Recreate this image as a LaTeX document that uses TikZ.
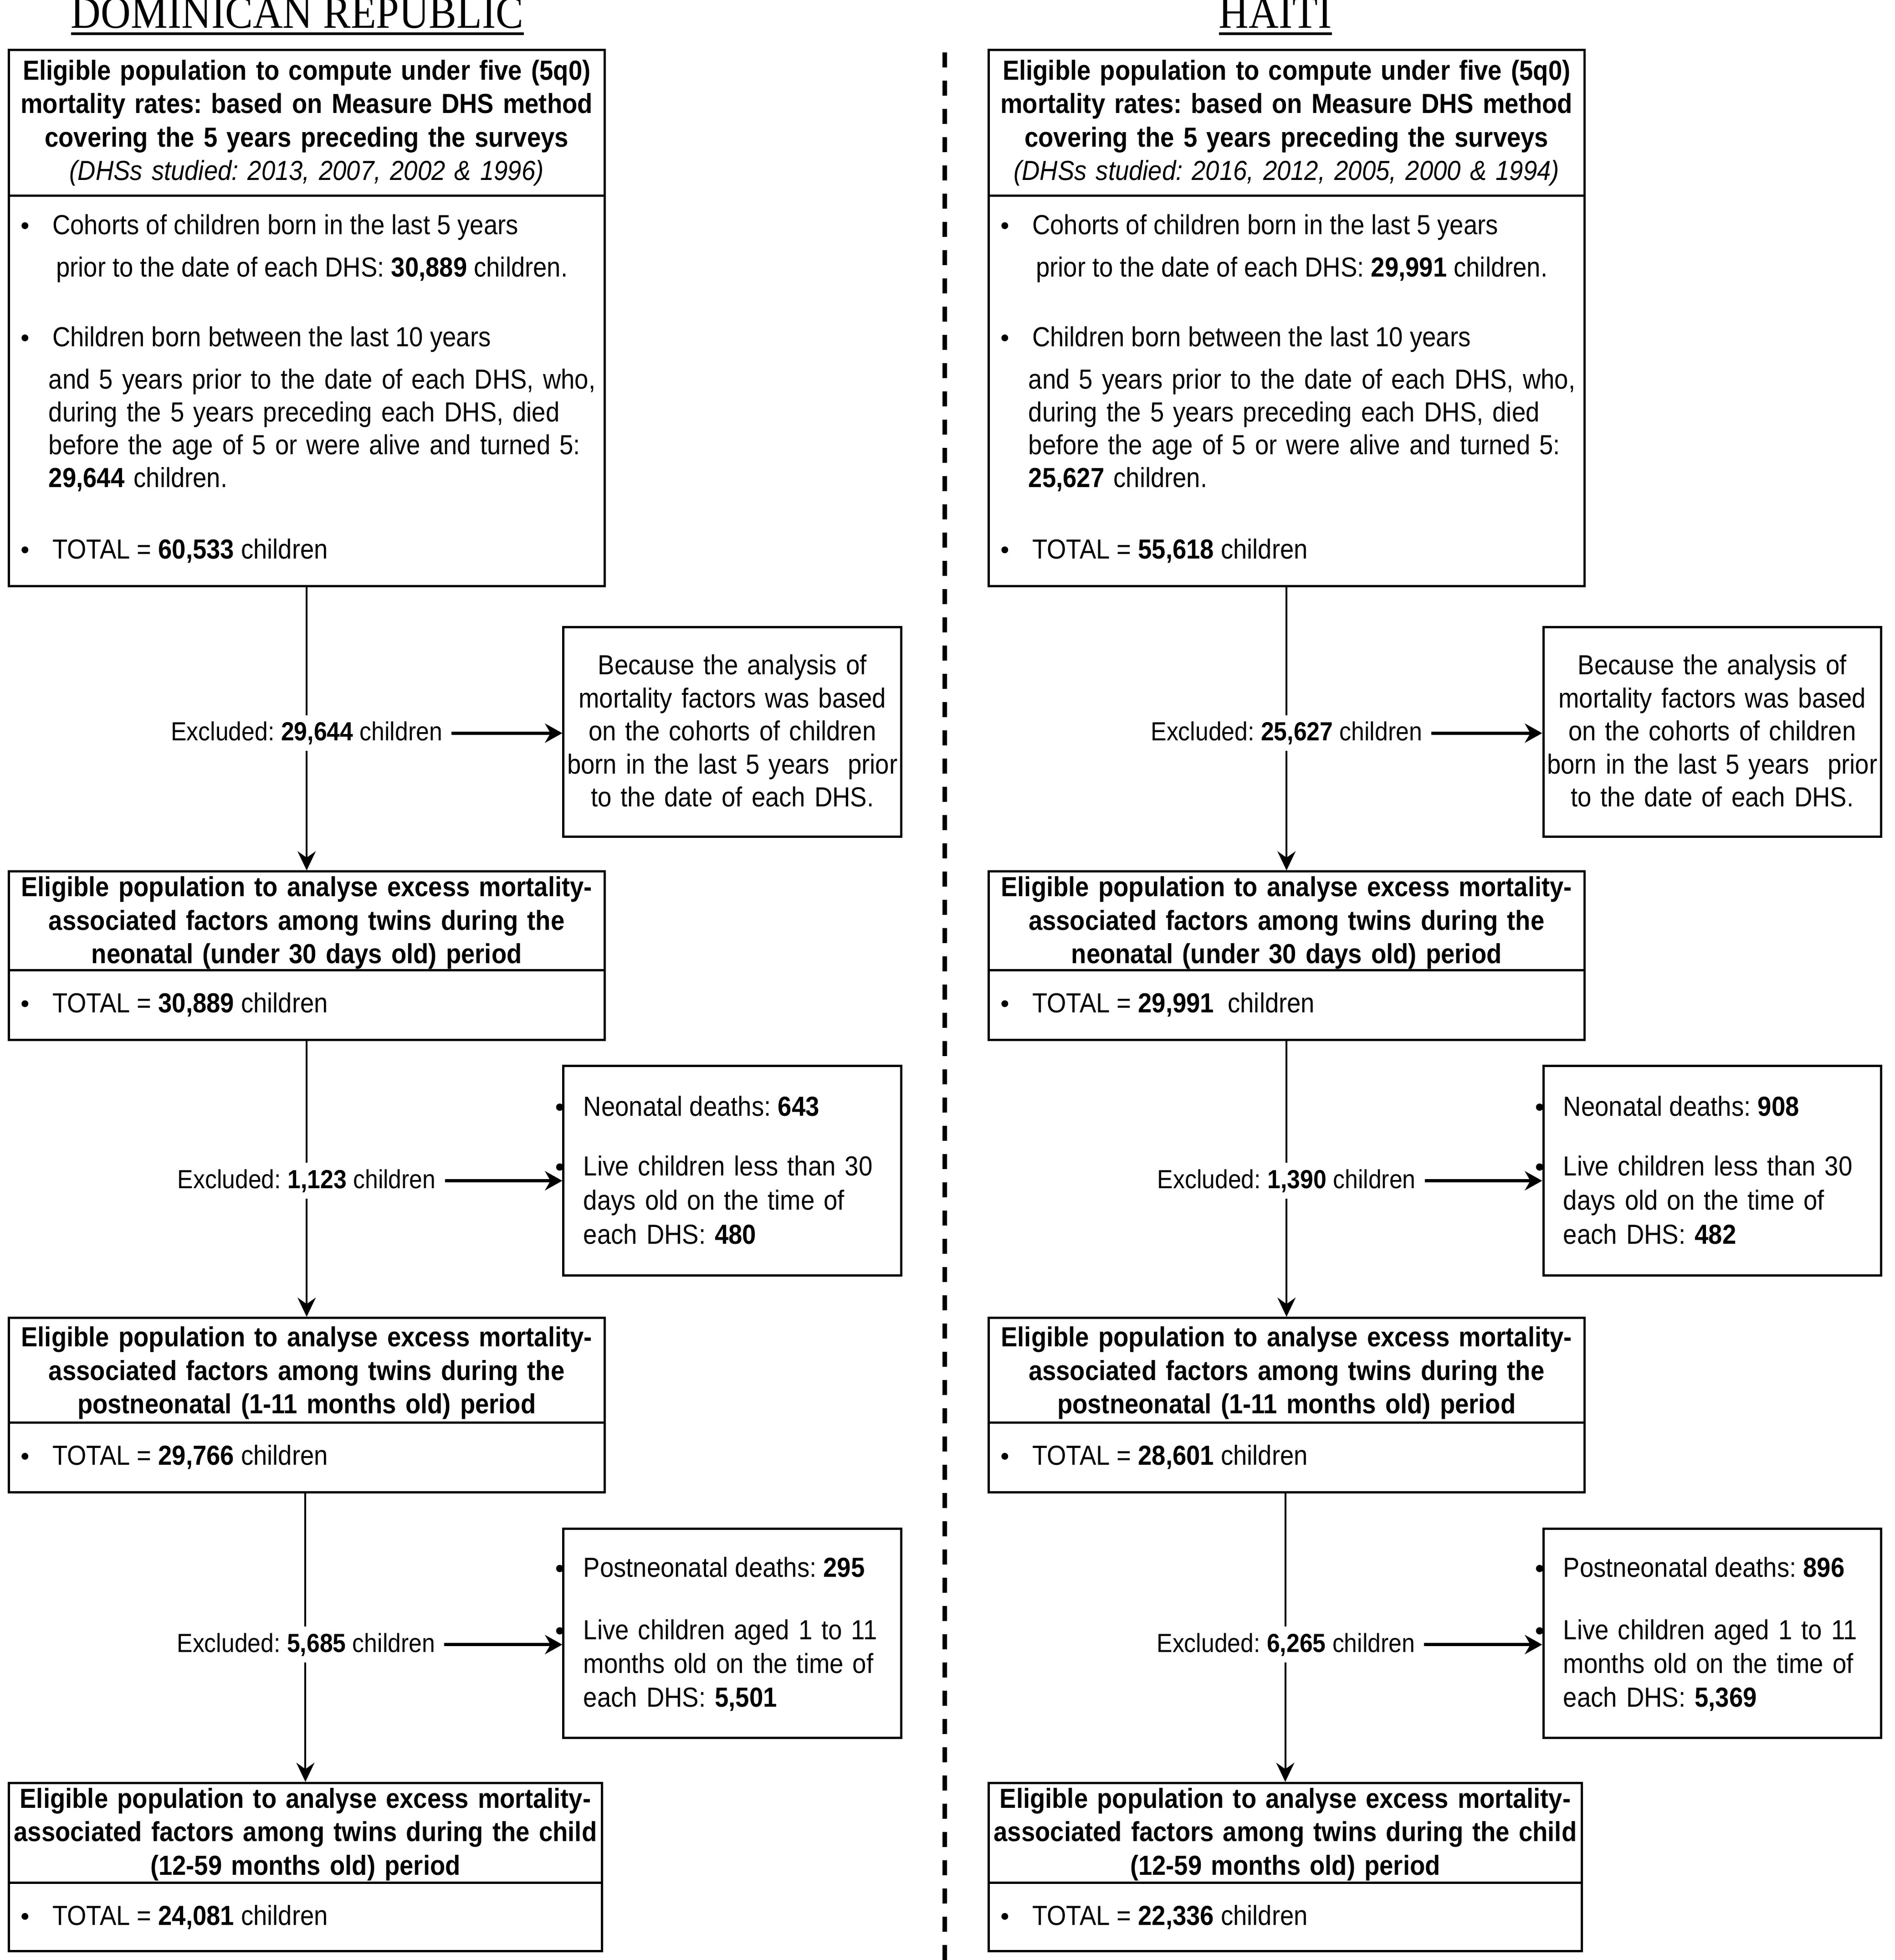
\documentclass[tikz,border=0pt]{standalone}
\usepackage{fontspec}
\setmainfont[FakeStretch=0.9]{Liberation Sans}
\newfontfamily\titlefont[FakeStretch=0.91]{Liberation Serif}
\usetikzlibrary{arrows.meta,fit}
\newcommand{\fsz}[1]{\fontsize{60.5}{#1}\selectfont}
\frenchspacing
\begin{document}
\begin{tikzpicture}[x=2.7368pt,y=-2.7368pt,
  frame/.style={draw=black, line width=5pt, inner sep=0pt},
  hdr/.style={anchor=base, inner sep=0pt, text width=1500pt, align=center, font=\fsz{73.5}\bfseries},
  txt/.style={anchor=base west, inner sep=0pt, font=\fsz{72.5}},
  txtm/.style={anchor=base west, inner sep=0pt, text width=1250pt, align=left, font=\fsz{#1}},
  stxt/.style={anchor=base, inner sep=0pt, text width=800pt, align=center, font=\fsz{72.5}},
  exlab/.style={anchor=base, fill=white, inner xsep=20pt, inner ysep=14pt, font=\fontsize{57.5}{66}\selectfont},
  dot/.style={circle, fill=black, inner sep=0pt, minimum size=15pt},
  sdot/.style={circle, fill=black, inner sep=0pt, minimum size=16pt},
  varrow/.style={line width=4pt, -{Stealth[length=42pt,width=40pt,inset=14pt]}},
  harrow/.style={line width=7pt, -{Stealth[length=38pt,width=42pt,inset=12pt]}},
  ttl/.style={anchor=base, inner sep=0pt, font=\titlefont\fontsize{100}{100}\selectfont},
  uline/.style={line width=6pt},
  divider/.style={line width=10pt, dash pattern=on 33pt off 29pt}]
\useasboundingbox (0,0) rectangle (1520,1572);
\fill[white] (0,0) rectangle (1520,1572);

% ---------- titles ----------
\node[ttl] (tDR) at (238.5,22.5) {DOMINICAN REPUBLIC};
\draw[uline] ([yshift=-12pt]tDR.base west) -- ([yshift=-12pt]tDR.base east);
\node[ttl] (tHA) at (1023,22.5) {HAITI};
\draw[uline] ([yshift=-12pt]tHA.base west) -- ([yshift=-12pt]tHA.base east);

% ---------- divider ----------
\coordinate (dv1) at (758,42);
\coordinate (dv2) at (758,1572);
\draw[divider] (dv1) -- (dv2);

% ================= DOMINICAN REPUBLIC =================
\node[frame, fit={(7,40)(485,157)}] (dAh) {};
\node[frame, fit={(7,157)(485,470)}] (dAb) {};
\node[frame, fit={(452,503)(723,671)}] (dS1) {};
\node[frame, fit={(7,699)(485,778)}] (dBh) {};
\node[frame, fit={(7,778)(485,834)}] (dBb) {};
\node[frame, fit={(452,855)(723,1023)}] (dS2) {};
\node[frame, fit={(7,1057)(485,1141)}] (dCh) {};
\node[frame, fit={(7,1141)(485,1197)}] (dCb) {};
\node[frame, fit={(452,1226)(723,1394)}] (dS3) {};
\node[frame, fit={(7,1430)(483,1510)}] (dDh) {};
\node[frame, fit={(7,1510)(483,1565)}] (dDb) {};

\node[hdr] (dAht) at (246,64) {Eligible population to compute under five (5q0)\\mortality rates: based on Measure DHS method\\covering the 5 years preceding the surveys\\{\mdseries\itshape (DHSs studied: 2013, 2007, 2002 \& 1996)}};
\node[dot] (dAd1) at (20,181) {};
\node[txt] (dAt1) at (42,188) {Cohorts of children born in the last 5 years};
\node[txt] (dAt2) at (45,222) {prior to the date of each DHS: \textbf{30,889} children.};
\node[dot] (dAd2) at (20,271) {};
\node[txt] (dAt3) at (42,278) {Children born between the last 10 years};
\node[txtm=72] (dAt4) at (39,312) {and 5 years prior to the date of each DHS, who,\\during the 5 years preceding each DHS, died\\before the age of 5 or were alive and turned 5:\\\textbf{29,644} children.};
\node[dot] (dAd3) at (20,441) {};
\node[txt] (dAt5) at (42,448) {TOTAL = \textbf{60,533} children};

\node[stxt] (dS1t) at (587.5,541) {Because the analysis of\\mortality factors was based\\on the cohorts of children\\born in the last 5 years\ \ prior\\to the date of each DHS.};

\node[hdr] (dBht) at (246,719) {Eligible population to analyse excess mortality-\\associated factors among twins during the\\neonatal (under 30 days old) period};
\node[dot] (dBd) at (20,805) {};
\node[txt] (dBt) at (42,812) {TOTAL = \textbf{30,889} children};

\node[sdot] (dS2d1) at (449,888) {};
\node[txt] (dS2t1) at (468,895) {Neonatal deaths: \textbf{643}};
\node[sdot] (dS2d2) at (449,936) {};
\node[txtm=75] (dS2t2) at (468,943) {Live children less than 30\\days old on the time of\\each DHS: \textbf{480}};

\node[hdr] (dCht) at (246,1080) {Eligible population to analyse excess mortality-\\associated factors among twins during the\\postneonatal (1-11 months old) period};
\node[dot] (dCd) at (20,1168) {};
\node[txt] (dCt) at (42,1175) {TOTAL = \textbf{29,766} children};

\node[sdot] (dS3d1) at (449,1258) {};
\node[txt] (dS3t1) at (468,1265) {Postneonatal deaths: \textbf{295}};
\node[sdot] (dS3d2) at (449,1308) {};
\node[txtm=74] (dS3t2) at (468,1315) {Live children aged 1 to 11\\months old on the time of\\each DHS: \textbf{5,501}};

\node[hdr] (dDht) at (245,1450) {Eligible population to analyse excess mortality-\\associated factors among twins during the child\\(12-59 months old) period};
\node[dot] (dDd) at (20,1537) {};
\node[txt] (dDt) at (42,1544) {TOTAL = \textbf{24,081} children};

\draw[varrow] (dAb.south) -- (dBh.north);
\draw[varrow] (dBb.south) -- (dCh.north);
\draw[varrow] (dCb.south -| dDh.north) -- (dDh.north);

\node[exlab] (dX1) at (246,594) {Excluded: \textbf{29,644} children};
\node[exlab] (dX2) at (246,953) {Excluded: \textbf{1,123} children};
\node[exlab] (dX3) at (245.5,1325) {Excluded: \textbf{5,685} children};
\draw[harrow] (dX1.east) -- (dX1.east -| dS1.west);
\draw[harrow] (dX2.east) -- (dX2.east -| dS2.west);
\draw[harrow] (dX3.east) -- (dX3.east -| dS3.west);

% ================= HAITI =================
\node[frame, fit={(793,40)(1271,157)}] (hAh) {};
\node[frame, fit={(793,157)(1271,470)}] (hAb) {};
\node[frame, fit={(1238,503)(1509,671)}] (hS1) {};
\node[frame, fit={(793,699)(1271,778)}] (hBh) {};
\node[frame, fit={(793,778)(1271,834)}] (hBb) {};
\node[frame, fit={(1238,855)(1509,1023)}] (hS2) {};
\node[frame, fit={(793,1057)(1271,1141)}] (hCh) {};
\node[frame, fit={(793,1141)(1271,1197)}] (hCb) {};
\node[frame, fit={(1238,1226)(1509,1394)}] (hS3) {};
\node[frame, fit={(793,1430)(1269,1510)}] (hDh) {};
\node[frame, fit={(793,1510)(1269,1565)}] (hDb) {};

\node[hdr] (hAht) at (1032,64) {Eligible population to compute under five (5q0)\\mortality rates: based on Measure DHS method\\covering the 5 years preceding the surveys\\{\mdseries\itshape (DHSs studied: 2016, 2012, 2005, 2000 \& 1994)}};
\node[dot] (hAd1) at (806,181) {};
\node[txt] (hAt1) at (828,188) {Cohorts of children born in the last 5 years};
\node[txt] (hAt2) at (831,222) {prior to the date of each DHS: \textbf{29,991} children.};
\node[dot] (hAd2) at (806,271) {};
\node[txt] (hAt3) at (828,278) {Children born between the last 10 years};
\node[txtm=72] (hAt4) at (825,312) {and 5 years prior to the date of each DHS, who,\\during the 5 years preceding each DHS, died\\before the age of 5 or were alive and turned 5:\\\textbf{25,627} children.};
\node[dot] (hAd3) at (806,441) {};
\node[txt] (hAt5) at (828,448) {TOTAL = \textbf{55,618} children};

\node[stxt] (hS1t) at (1373.5,541) {Because the analysis of\\mortality factors was based\\on the cohorts of children\\born in the last 5 years\ \ prior\\to the date of each DHS.};

\node[hdr] (hBht) at (1032,719) {Eligible population to analyse excess mortality-\\associated factors among twins during the\\neonatal (under 30 days old) period};
\node[dot] (hBd) at (806,805) {};
\node[txt] (hBt) at (828,812) {TOTAL = \textbf{29,991}\ \ children};

\node[sdot] (hS2d1) at (1235,888) {};
\node[txt] (hS2t1) at (1254,895) {Neonatal deaths: \textbf{908}};
\node[sdot] (hS2d2) at (1235,936) {};
\node[txtm=75] (hS2t2) at (1254,943) {Live children less than 30\\days old on the time of\\each DHS: \textbf{482}};

\node[hdr] (hCht) at (1032,1080) {Eligible population to analyse excess mortality-\\associated factors among twins during the\\postneonatal (1-11 months old) period};
\node[dot] (hCd) at (806,1168) {};
\node[txt] (hCt) at (828,1175) {TOTAL = \textbf{28,601} children};

\node[sdot] (hS3d1) at (1235,1258) {};
\node[txt] (hS3t1) at (1254,1265) {Postneonatal deaths: \textbf{896}};
\node[sdot] (hS3d2) at (1235,1308) {};
\node[txtm=74] (hS3t2) at (1254,1315) {Live children aged 1 to 11\\months old on the time of\\each DHS: \textbf{5,369}};

\node[hdr] (hDht) at (1031,1450) {Eligible population to analyse excess mortality-\\associated factors among twins during the child\\(12-59 months old) period};
\node[dot] (hDd) at (806,1537) {};
\node[txt] (hDt) at (828,1544) {TOTAL = \textbf{22,336} children};

\draw[varrow] (hAb.south) -- (hBh.north);
\draw[varrow] (hBb.south) -- (hCh.north);
\draw[varrow] (hCb.south -| hDh.north) -- (hDh.north);

\node[exlab] (hX1) at (1032,594) {Excluded: \textbf{25,627} children};
\node[exlab] (hX2) at (1032,953) {Excluded: \textbf{1,390} children};
\node[exlab] (hX3) at (1031.5,1325) {Excluded: \textbf{6,265} children};
\draw[harrow] (hX1.east) -- (hX1.east -| hS1.west);
\draw[harrow] (hX2.east) -- (hX2.east -| hS2.west);
\draw[harrow] (hX3.east) -- (hX3.east -| hS3.west);
\end{tikzpicture}
\end{document}
